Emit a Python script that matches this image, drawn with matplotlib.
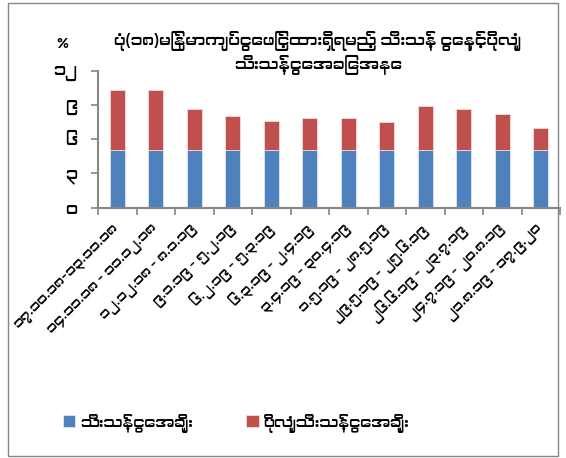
import matplotlib
matplotlib.use("Agg")
import matplotlib.pyplot as plt
from matplotlib import font_manager
from matplotlib.patches import Rectangle
import numpy as np

# data
periods = ["၁၇.၁၀.၁၈-၁၃.၁၁.၁၈", "၁၄.၁၁.၁၈ - ၁၁.၁၂.၁၈", "၁၂.၁၂.၁၈ - ၈.၁.၁၉",
           "၉.၁.၁၉ - ၅.၂.၁၉", "၆.၂.၁၉ - ၅.၃.၁၉", "၆.၃.၁၉ - ၂.၄.၁၉",
           "၃.၄.၁၉ - ၃၀.၄.၁၉", "၁.၅.၁၉ - ၂၈.၅.၁၉", "၂၉.၅.၁၉ - ၂၅.၆.၁၉",
           "၂၆.၆.၁၉ - ၂၃.၇.၁၉", "၂၄.၇.၁၉ - ၂၀.၈.၁၉", "၂၁.၈.၁၉ - ၁၇.၉.၂၀"]
reserve = [5.0] * 12
excess = [5.3, 5.25, 3.6, 3.05, 2.55, 2.85, 2.8, 2.45, 3.9, 3.65, 3.2, 2.0]
yticks = [0, 3, 6, 9, 12]
ytick_labels = ["၀", "၃", "၆", "၉", "၁၂"]
series_names = ["သီးသန့်ငွေအချိုး", "ပိုလျှံသီးသန့်ငွေအချိုး"]
title = "ပုံ(၁၈)မြန်မာကျပ်ငွေဖြင့်ထားရှိရမည့် သီးသန့် ငွေနှင့်ပိုလျှံ\nသီးသန့်ငွေအခြေအနေ"

# pick a font with Myanmar glyphs if one is installed
mm_font = "DejaVu Sans"
for f in font_manager.fontManager.ttflist:
    if "Myanmar" in f.name or "Padauk" in f.name or "Myanmar" in f.fname:
        mm_font = f.name
        break
plt.rcParams["font.family"] = [mm_font, "DejaVu Sans"]

W, H = 566, 458
fig = plt.figure(figsize=(W / 100, H / 100), dpi=100)
ax = fig.add_axes([98 / W, 1 - 207.5 / H, (560 - 98) / W, (207.5 - 70.5) / H])

x = np.arange(len(periods))
blue, red = "#4F81BD", "#C0504D"
ax.bar(x, reserve, width=0.38, color=blue, edgecolor="#DCE6F2", linewidth=0.6, label=series_names[0])
ax.bar(x, excess, bottom=reserve, width=0.38, color=red, edgecolor="#F2DCDB", linewidth=0.6, label=series_names[1])

ax.set_xlim(-0.5, len(periods) - 0.5)
ax.set_ylim(0, 12)
ax.set_yticks(yticks)
ax.set_yticklabels(ytick_labels, fontsize=12)

# labels on the major ticks (bar centres), tick marks on the minor ticks (boundaries)
ax.set_xticks(x)
ax.set_xticklabels(periods, fontsize=10, family=mm_font)
for lab in ax.get_xticklabels():
    lab.set_rotation(45)
    lab.set_rotation_mode("anchor")
    lab.set_ha("right")
    lab.set_va("center")
ax.set_xticks(np.arange(len(periods) + 1) - 0.5, minor=True)
ax.tick_params(axis="x", which="major", length=0, pad=14)
ax.tick_params(axis="x", which="minor", direction="out", length=5, color="#868686", width=1.2)
ax.tick_params(axis="y", direction="out", length=5, color="#868686", width=1.2, pad=10)
for s in ["top", "right"]:
    ax.spines[s].set_visible(False)
for s in ["left", "bottom"]:
    ax.spines[s].set_color("#868686")
    ax.spines[s].set_linewidth(1.5)

fig.text(318 / W, 1 - 53 / H, title, ha="center", va="center", fontsize=11.5,
         fontweight="bold", linespacing=1.3)
fig.text(62 / W, 1 - 44 / H, "%", ha="center", va="center", fontsize=11)

fig.legend(loc="center", bbox_to_anchor=(236 / W, 1 - 423 / H), ncol=2, frameon=False,
           fontsize=11, handlelength=0.8, handleheight=0.8, columnspacing=3.5, handletextpad=0.3)

fig.patches.append(Rectangle((8 / W, 2 / H), (558 - 8) / W, (H - 5) / H, transform=fig.transFigure,
                             fill=False, edgecolor="#868686", linewidth=1))

fig.savefig("out.png", dpi=100)
